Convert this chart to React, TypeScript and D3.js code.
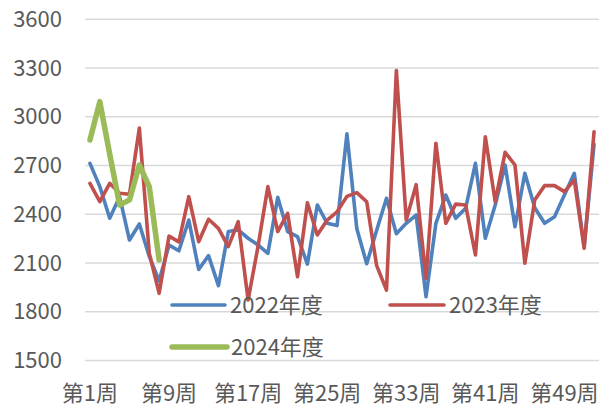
import React from "react";
import * as d3 from "d3";

const weeks: string[] = Array.from({ length: 52 }, (_, i) => `第${i + 1}周`);
const tickLabels = ["第1周", "第9周", "第17周", "第25周", "第33周", "第41周", "第49周"];
const yTicks = [1500, 1800, 2100, 2400, 2700, 3000, 3300, 3600];

const series2022 = [
  2713, 2570, 2375, 2508, 2241, 2340, 2140, 1990, 2210, 2175,
  2364, 2060, 2145, 1960, 2293, 2303, 2252, 2211, 2159, 2504,
  2293, 2262, 2093, 2457, 2344, 2330, 2895, 2310, 2095, 2300,
  2498, 2280, 2344, 2395, 1892, 2344, 2518, 2375, 2436, 2713,
  2252, 2457, 2703, 2323, 2652, 2440, 2344, 2385, 2518, 2652,
  2200, 2830,
];
const series2023 = [
  2590, 2477, 2590, 2529, 2523, 2930, 2160, 1913, 2265, 2230,
  2508, 2231, 2369, 2313, 2200, 2354, 1872, 2200, 2570, 2293,
  2405, 2015, 2471, 2272, 2364, 2415, 2510, 2533, 2477, 2085,
  1933, 3285, 2364, 2582, 2005, 2837, 2344, 2462, 2457, 2149,
  2877, 2477, 2781, 2703, 2098, 2488, 2576, 2576, 2539, 2610,
  2190, 2908,
];
const series2024 = [2857, 3093, 2770, 2457, 2488, 2703, 2570, 2118];

const seriesNames = ["2022年度", "2023年度", "2024年度"];
const colors = ["#4F81BD", "#C0504D", "#9BBB59"];

const W = 603;
const H = 410;
const plotLeft = 85;
const plotRight = 599;
const plotTop = 19.3;
const plotBottom = 360.4;
const FONT = "'Noto Sans CJK SC', 'Liberation Sans', sans-serif";
const TEXT = "#595959";

export default function App() {
  const x = d3.scaleBand<string>().domain(weeks).range([plotLeft, plotRight]);
  const cx = (i: number) => (x(weeks[i]) as number) + x.bandwidth() / 2;
  const y = d3.scaleLinear().domain([1500, 3600]).range([plotBottom, plotTop]);
  const line = d3
    .line<number>()
    .x((_, i) => cx(i))
    .y((d) => y(d));

  const all = [series2022, series2023, series2024];
  const widths = [3.6, 3.6, 5.5];

  const legend = [
    { x1: 172, x2: 225, ty: 305, tx: 230 },
    { x1: 390, x2: 444, ty: 305, tx: 449 },
    { x1: 172, x2: 227, ty: 347, tx: 231 },
  ];

  return (
    <svg
      width={W}
      height={H}
      style={{ position: "absolute", left: 0, top: 0, background: "#fff" }}
      fontFamily={FONT}
    >
      {yTicks.map((t) => (
        <g key={t}>
          <line x1={plotLeft} x2={plotRight} y1={y(t)} y2={y(t)} stroke="#D9D9D9" strokeWidth={1.5} />
          <text x={62} y={y(t)} dy="0.35em" textAnchor="end" fontSize={22} fill={TEXT}>
            {t}
          </text>
        </g>
      ))}
      {tickLabels.map((lab) => (
        <text
          key={lab}
          x={(x(lab) as number) + x.bandwidth() / 2}
          y={401}
          textAnchor="middle"
          fontSize={22}
          fill={TEXT}
        >
          {lab}
        </text>
      ))}
      {all.map((s, k) => (
        <path
          key={k}
          d={line(s) || ""}
          fill="none"
          stroke={colors[k]}
          strokeWidth={widths[k]}
          strokeLinejoin="round"
          strokeLinecap="round"
        />
      ))}
      {legend.map((l, k) => (
        <g key={k}>
          <line x1={l.x1} x2={l.x2} y1={l.ty} y2={l.ty} stroke={colors[k]} strokeWidth={widths[k]} strokeLinecap="round" />
          <text x={l.tx} y={l.ty} dy="0.35em" fontSize={22} fill={TEXT}>
            {seriesNames[k]}
          </text>
        </g>
      ))}
    </svg>
  );
}
